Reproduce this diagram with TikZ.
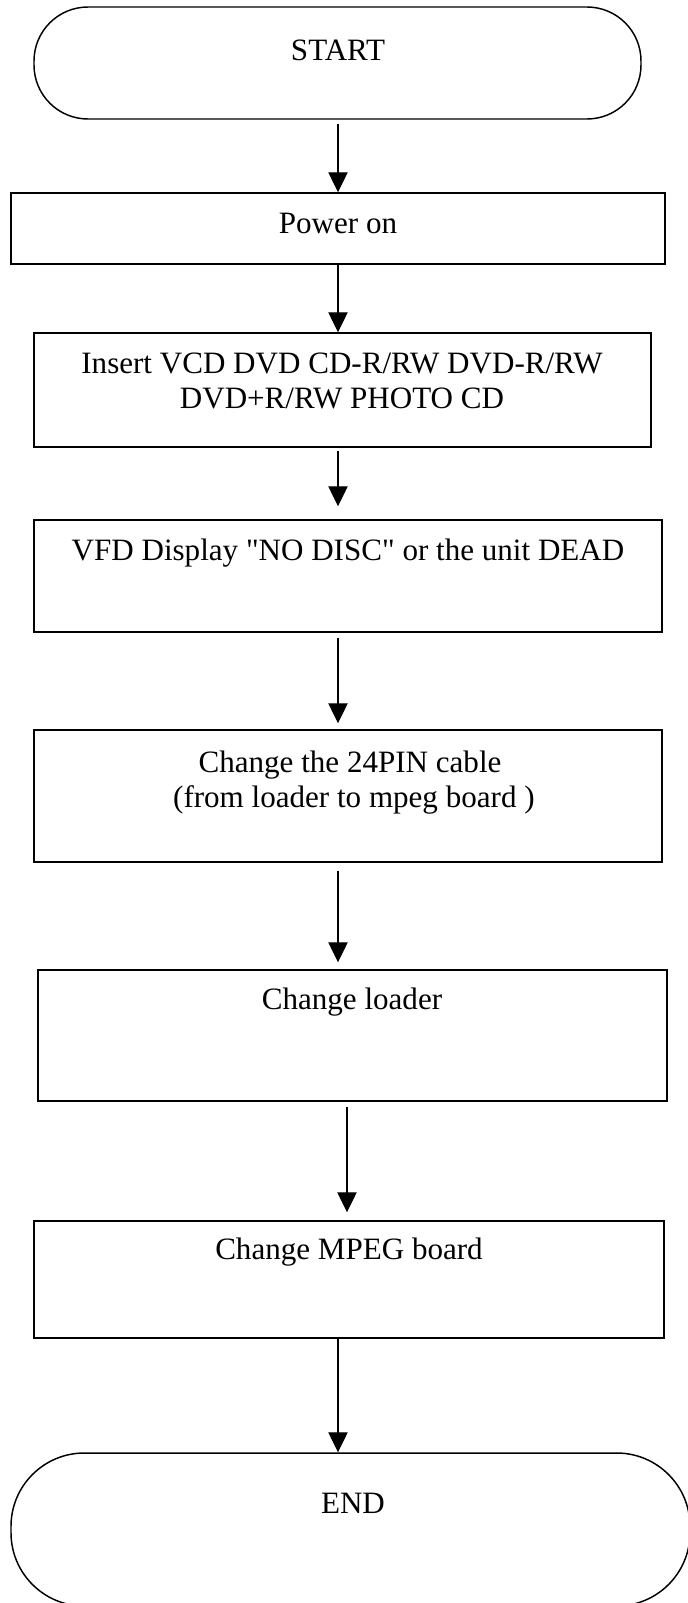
\documentclass[tikz,border=0pt]{standalone}
\usepackage{fontspec}
\setmainfont{Liberation Serif}
\usetikzlibrary{arrows.meta,fit}

\begin{document}
\begin{tikzpicture}[x=0.75pt, y=-0.75pt,
    font=\fontsize{23.3}{26.25}\selectfont,
    every node/.style={inner sep=0pt},
    stepbox/.style={draw, line width=1.1pt},
    termbox/.style={draw, line width=1.1pt, rounded corners=#1},
    steptext/.style={anchor=base, align=center},
    flowarrow/.style={line width=0.9pt, -{Triangle[length=15pt, width=14.5pt]}}]

    % Page frame: the END shape runs off the bottom edge
    \useasboundingbox (0,0) rectangle (688,1603);
    \clip (0,0) rectangle (688,1603);

    % Boxes (corners in pixels of the original sheet)
    \node[termbox=40.5pt, fit={(34,7) (641,119)}]    (start)  {};
    \node[stepbox,        fit={(11,193) (665,264)}]  (power)  {};
    \node[stepbox,        fit={(34,333) (651,447)}]  (insert) {};
    \node[stepbox,        fit={(34,520) (662,632)}]  (vfd)    {};
    \node[stepbox,        fit={(34,730) (662,862)}]  (cable)  {};
    \node[stepbox,        fit={(38,970) (667,1101)}] (loader) {};
    \node[stepbox,        fit={(34,1221) (664,1338)}] (mpeg)  {};
    \node[termbox=55pt,   fit={(11,1453) (690,1606)}] (finish) {};

    % Box texts (base = baseline of the last line)
    \node[steptext] (startTxt)  at (338,60)   {START};
    \node[steptext] (powerTxt)  at (338,233)  {Power on};
    \node[steptext] (insertTxt) at (342,408)  {Insert VCD DVD CD-R/RW DVD-R/RW\\DVD+R/RW PHOTO CD};
    \node[steptext] (vfdTxt)    at (348,560)  {VFD Display \textquotedbl NO DISC\textquotedbl{} or the unit DEAD};
    \node[steptext] (cableTxt)  at (350,807)  {Change the 24PIN cable\\\ (from loader to mpeg board )};
    \node[steptext] (loaderTxt) at (352,1009) {Change loader};
    \node[steptext] (mpegTxt)   at (349,1259) {Change MPEG board};
    \node[steptext] (finishTxt) at (353,1513) {END};

    % Connectors
    \coordinate (axis)  at (338,0);
    \coordinate (axisB) at (347,0);
    \draw[flowarrow, shorten <=3pt] (start.south -| axis) -- (power.north -| axis);
    \draw[flowarrow] (power.south -| axis) -- (insert.north -| axis);
    \draw[flowarrow, shorten <=2.25pt, shorten >=9.75pt] (insert.south -| axis) -- (vfd.north -| axis);
    \draw[flowarrow, shorten <=3.75pt, shorten >=4.5pt] (vfd.south -| axis) -- (cable.north -| axis);
    \draw[flowarrow, shorten <=6pt, shorten >=5.25pt] (cable.south -| axis) -- (loader.north -| axis);
    \draw[flowarrow, shorten <=3.75pt, shorten >=6pt] (loader.south -| axisB) -- (mpeg.north -| axisB);
    \draw[flowarrow] (mpeg.south -| axis) -- (finish.north -| axis);
\end{tikzpicture}
\end{document}
